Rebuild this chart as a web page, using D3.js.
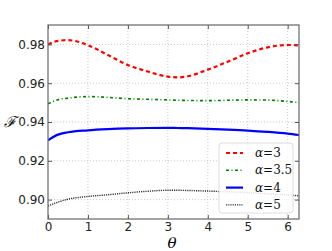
<!DOCTYPE html>
<html>
<head>
<meta charset="utf-8">
<script src="https://cdn.jsdelivr.net/npm/d3@7"></script>
<style>
body { margin: 0; background: #fff; }
svg { display: block; }
.tick text { font-family: "DejaVu Sans", sans-serif; font-size: 12px; fill: #222; }
</style>
</head>
<body>
<div id="root"></div>
<script>
const width = 332, height = 251;
const margin = {top: 25, right: 33, bottom: 32, left: 48};

// theta sample points
const theta = [0, 0.25, 0.5, 1, 1.5, 2, 2.5, 3, 3.25, 3.5, 4, 4.5, 5, 5.5, 6, 6.283];
// fidelity per alpha
const f3  = [0.9800, 0.9818, 0.9822, 0.9796, 0.9745, 0.9694, 0.9660, 0.9634, 0.9630, 0.9636, 0.9670, 0.9711, 0.9754, 0.9785, 0.9797, 0.9795];
const f35 = [0.9494, 0.9515, 0.9523, 0.9531, 0.9527, 0.9520, 0.9517, 0.9514, 0.9512, 0.9511, 0.9510, 0.9512, 0.9514, 0.9513, 0.9506, 0.9500];
const f4  = [0.9306, 0.9335, 0.9347, 0.9357, 0.9363, 0.9367, 0.9369, 0.9370, 0.9369, 0.9368, 0.9365, 0.9361, 0.9356, 0.9349, 0.9340, 0.9333];
const f5  = [0.8967, 0.8987, 0.9002, 0.9016, 0.9025, 0.9035, 0.9043, 0.9048, 0.9048, 0.9047, 0.9044, 0.9040, 0.9036, 0.9030, 0.9024, 0.9019];
const labels = ["3", "3.5", "4", "5"];
const xTicks = [0, 1, 2, 3, 4, 5, 6];
const yTicks = [0.90, 0.92, 0.94, 0.96, 0.98];

const series = [
  {vals: f3,  color: "#ff0000", width: 2.2, dash: "4,3"},
  {vals: f35, color: "#008000", width: 1.6, dash: "3,2.5,1,2.5"},
  {vals: f4,  color: "#0000ff", width: 2.2, dash: null},
  {vals: f5,  color: "#333333", width: 1.4, dash: "1.2,1"}
];

const svg = d3.select('#root').append('svg').attr('width', width).attr('height', height);

const x = d3.scaleLinear().domain([0, 2 * Math.PI]).range([margin.left, width - margin.right]);
const y = d3.scaleLinear().domain([0.89, 0.99]).range([height - margin.bottom, margin.top]);

// grid
const grid = svg.append('g');
grid.selectAll('.vg').data(xTicks.slice(1)).enter().append('line')
  .attr('x1', d => x(d)).attr('x2', d => x(d))
  .attr('y1', y.range()[1]).attr('y2', y.range()[0])
  .attr('stroke', '#bbb').attr('stroke-width', 0.8).attr('stroke-dasharray', '1,2');
grid.selectAll('.hg').data(yTicks).enter().append('line')
  .attr('x1', x.range()[0]).attr('x2', x.range()[1])
  .attr('y1', d => y(d)).attr('y2', d => y(d))
  .attr('stroke', '#bbb').attr('stroke-width', 0.8).attr('stroke-dasharray', '1,2');

const line = d3.line().curve(d3.curveMonotoneX).x((d, i) => x(theta[i])).y(d => y(d));

svg.append('defs').append('clipPath').attr('id', 'clip').append('rect')
  .attr('x', x.range()[0]).attr('y', y.range()[1])
  .attr('width', x.range()[1] - x.range()[0]).attr('height', y.range()[0] - y.range()[1]);

series.forEach(s => {
  svg.append('path').datum(s.vals)
    .attr('d', line).attr('fill', 'none')
    .attr('stroke', s.color).attr('stroke-width', s.width)
    .attr('stroke-dasharray', s.dash)
    .attr('clip-path', 'url(#clip)');
});

// axes, ticks pointing inward
const xAxis = d3.axisBottom(x).tickValues(xTicks).tickSizeInner(-4).tickSizeOuter(0).tickPadding(3).tickFormat(d3.format('d'));
const yAxis = d3.axisLeft(y).tickValues(yTicks).tickSizeInner(-4).tickSizeOuter(0).tickPadding(3).tickFormat(d3.format('.2f'));
svg.append('g').attr('transform', `translate(0,${y.range()[0]})`).call(xAxis);
svg.append('g').attr('transform', `translate(${x.range()[0]},0)`).call(yAxis);
svg.append('g').attr('transform', `translate(0,${y.range()[1]})`)
  .call(d3.axisTop(x).tickValues(xTicks).tickSizeInner(-4).tickSizeOuter(0).tickFormat(''));
svg.append('g').attr('transform', `translate(${x.range()[1]},0)`)
  .call(d3.axisRight(y).tickValues(yTicks).tickSizeInner(-4).tickSizeOuter(0).tickFormat(''));
svg.selectAll('.domain').remove();
svg.selectAll('.tick line').attr('stroke', '#555');

svg.append('rect')
  .attr('x', x.range()[0]).attr('y', y.range()[1])
  .attr('width', x.range()[1] - x.range()[0]).attr('height', y.range()[0] - y.range()[1])
  .attr('fill', 'none').attr('stroke', '#666').attr('stroke-width', 1.2);

// axis labels
svg.append('text').attr('x', 10).attr('y', y(0.94) + 5)
  .attr('text-anchor', 'middle')
  .attr('font-family', 'DejaVu Serif, serif').attr('font-style', 'italic').attr('font-size', 15)
  .text('ℱ');
svg.append('text').attr('x', 172).attr('y', 248)
  .attr('text-anchor', 'middle')
  .attr('font-family', 'DejaVu Serif, serif').attr('font-style', 'italic').attr('font-size', 15)
  .text('θ');

// legend
const lg = svg.append('g').attr('transform', 'translate(219,143)');
lg.append('rect').attr('width', 74).attr('height', 70).attr('rx', 3)
  .attr('fill', 'white').attr('fill-opacity', 0.85).attr('stroke', '#ddd');
series.forEach((s, i) => {
  const yy = 10 + i * 17.3;
  lg.append('line').attr('x1', 7).attr('x2', 24).attr('y1', yy).attr('y2', yy)
    .attr('stroke', s.color).attr('stroke-width', s.width).attr('stroke-dasharray', s.dash);
  lg.append('text').attr('x', 36).attr('y', yy + 4)
    .attr('font-family', 'DejaVu Serif, serif').attr('font-size', 12).attr('fill', '#111')
    .html(`<tspan font-style="italic">α</tspan>=${labels[i]}`);
});
</script>
</body>
</html>
